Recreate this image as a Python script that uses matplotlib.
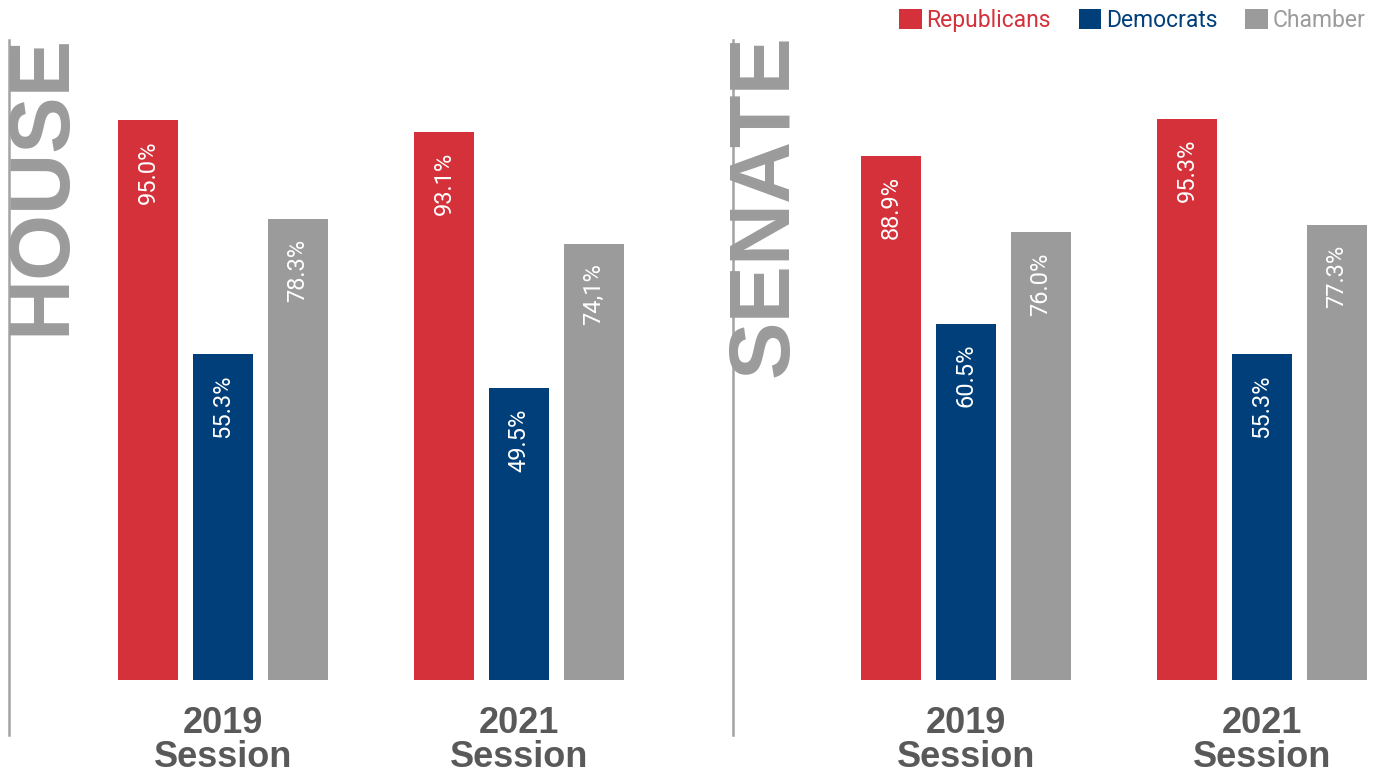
import matplotlib.pyplot as plt
from matplotlib.patches import Patch

# data
sessions = ["2019\nSession", "2021\nSession"]
parties = ["Republicans", "Democrats", "Chamber"]
house_rep = [95.0, 93.1]
house_dem = [55.3, 49.5]
house_chm = [78.3, 74.1]
senate_rep = [88.9, 95.3]
senate_dem = [60.5, 55.3]
senate_chm = [76.0, 77.3]
house_labels = [["95.0%", "93.1%"], ["55.3%", "49.5%"], ["78.3%", "74,1%"]]
senate_labels = [["88.9%", "95.3%"], ["60.5%", "55.3%"], ["76.0%", "77.3%"]]

colors = ["#d5313a", "#003f7a", "#9b9b9b"]
line_gray = "#a3a3a3"
label_gray = "#595959"

W, H = 1380, 778
fig = plt.figure(figsize=(W / 100, H / 100), dpi=100)

unit = 296.0
offs = [-75 / unit, 0, 75 / unit]
bw = 60 / unit
ybot = 680
ytop_scale = 589  # px for 100%


def panel(left_px, right_px, center_px, series, labels, title, title_x, title_size):
    ax = fig.add_axes([left_px / W, 1 - ybot / H, (right_px - left_px) / W, ytop_scale / H])
    ax.set_xlim((left_px - center_px) / unit, (right_px - center_px) / unit)
    ax.set_ylim(0, 100)
    for i, vals in enumerate(series):
        xs = [g + offs[i] for g in range(len(vals))]
        ax.bar(xs, vals, width=bw, color=colors[i], zorder=2)
        for x, v, lab in zip(xs, vals, labels[i]):
            ax.text(x, v - 3.4, lab, rotation=90, ha="center", va="top",
                    color="white", fontsize=17, family="Roboto")
    for s in ax.spines.values():
        s.set_visible(False)
    ax.set_yticks([])
    ax.set_xticks(range(len(sessions)))
    ax.set_xticklabels(sessions, fontsize=26, fontweight="bold",
                       color=label_gray, family="Liberation Sans", linespacing=0.95)
    ax.tick_params(axis="x", length=0, pad=19)
    ax.axvline(ax.get_xlim()[0], ymin=(ybot - 735) / ytop_scale,
               ymax=(ybot - 40) / ytop_scale, color=line_gray, lw=1.8, clip_on=False)
    fig.text(title_x / W, 1 - 34 / H, title, rotation=90, ha="center", va="top",
             fontsize=title_size, fontweight="bold", color="#9b9b9b", family="Liberation Sans")
    return ax


panel(9, 700, 223, [house_rep, house_dem, house_chm], house_labels, "HOUSE", 42, 61)
panel(733, 1380, 966, [senate_rep, senate_dem, senate_chm], senate_labels, "SENATE", 766, 62)

handles = [Patch(facecolor=c, edgecolor="none") for c in colors]
fig.legend(handles, parties, loc="upper right", bbox_to_anchor=(1 + 6 / W, 1 + 12 / H),
           ncol=3, frameon=False, handlelength=1.0, handleheight=1.0,
           handletextpad=0.2, columnspacing=1.2, labelcolor=colors,
           prop={"family": "Roboto", "size": 16.5})

fig.savefig("out.png", dpi=100)
